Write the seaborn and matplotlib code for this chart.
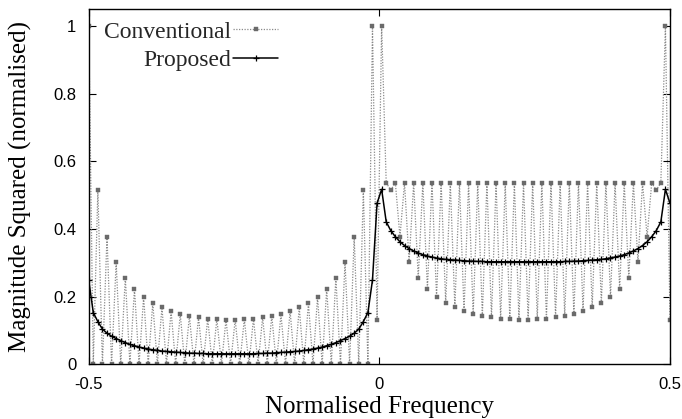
import numpy as np
import pandas as pd
import matplotlib
matplotlib.use("Agg")
import matplotlib.pyplot as plt
import seaborn as sns

# frequency bins (normalised frequency, -0.5 .. 0.5)
N_BINS = 128
freq = np.linspace(-0.5, 0.5, N_BINS)

# Conventional spectrum (bin by bin)
conventional = [
    1.0, 0, 0.515, 0, 0.377, 0, 0.302, 0, 0.256, 0, 0.223, 0, 0.199, 0, 0.181, 0,
    0.168, 0, 0.157, 0, 0.148, 0, 0.143, 0, 0.139, 0, 0.135, 0, 0.134, 0, 0.132, 0,
    0.132, 0, 0.134, 0, 0.135, 0, 0.139, 0, 0.143, 0, 0.148, 0, 0.157, 0, 0.168, 0,
    0.181, 0, 0.199, 0, 0.223, 0, 0.256, 0, 0.302, 0, 0.377, 0, 0.515, 0, 1.0, 0.132,
    1.0, 0.536, 0.515, 0.536, 0.377, 0.536, 0.302, 0.536, 0.256, 0.536, 0.223, 0.536, 0.199, 0.536, 0.181, 0.536,
    0.169, 0.536, 0.157, 0.536, 0.148, 0.536, 0.143, 0.536, 0.140, 0.536, 0.135, 0.536, 0.135, 0.536, 0.132, 0.536,
    0.132, 0.536, 0.135, 0.536, 0.135, 0.536, 0.140, 0.536, 0.143, 0.536, 0.148, 0.536, 0.157, 0.536, 0.169, 0.536,
    0.181, 0.536, 0.199, 0.536, 0.223, 0.536, 0.256, 0.536, 0.302, 0.536, 0.377, 0.536, 0.515, 0.536, 1.0, 0.132,
]

# Proposed spectrum (bin by bin)
proposed = [
    0.249, 0.153, 0.126, 0.104, 0.092, 0.083, 0.076, 0.070, 0.064, 0.059, 0.055, 0.051, 0.048, 0.045, 0.043, 0.041,
    0.039, 0.038, 0.037, 0.036, 0.035, 0.034, 0.033, 0.033, 0.032, 0.032, 0.031, 0.031, 0.031, 0.031, 0.031, 0.031,
    0.031, 0.031, 0.031, 0.031, 0.031, 0.032, 0.032, 0.033, 0.033, 0.034, 0.035, 0.036, 0.037, 0.038, 0.039, 0.041,
    0.043, 0.045, 0.048, 0.051, 0.055, 0.059, 0.064, 0.070, 0.076, 0.083, 0.092, 0.104, 0.126, 0.153, 0.249, 0.476,
    0.517, 0.421, 0.395, 0.377, 0.362, 0.351, 0.342, 0.335, 0.329, 0.324, 0.320, 0.317, 0.314, 0.312, 0.310, 0.309,
    0.308, 0.307, 0.306, 0.305, 0.305, 0.304, 0.304, 0.303, 0.303, 0.303, 0.303, 0.303, 0.303, 0.303, 0.303, 0.303,
    0.303, 0.303, 0.303, 0.303, 0.303, 0.303, 0.303, 0.303, 0.304, 0.304, 0.305, 0.305, 0.306, 0.307, 0.308, 0.309,
    0.310, 0.312, 0.314, 0.317, 0.320, 0.324, 0.329, 0.335, 0.342, 0.351, 0.362, 0.377, 0.395, 0.421, 0.517, 0.476,
]

series_names = ["Conventional", "Proposed"]
x_ticks = [-0.5, 0, 0.5]
x_tick_labels = ["-0.5", "0", "0.5"]
y_ticks = [0, 0.2, 0.4, 0.6, 0.8, 1]
y_tick_labels = ["0", "0.2", "0.4", "0.6", "0.8", "1"]

sns.set_theme(style="ticks")
plt.rcParams["axes.unicode_minus"] = False
plt.rcParams["font.family"] = ["Liberation Sans", "DejaVu Sans"]

fig = plt.figure(figsize=(6.82, 4.19), dpi=100)
W, H = 682, 419
ax = fig.add_axes([88.7 / W, 1 - 364.3 / H, (670 - 88.7) / W, (364.3 - 9) / H])

df = pd.DataFrame({"freq": freq, series_names[0]: conventional, series_names[1]: proposed})

sns.lineplot(data=df, x="freq", y=series_names[0], ax=ax, color="#8a8a8a",
             linestyle=(0, (1, 1.2)), linewidth=0.9, marker="s", markersize=2.7,
             markerfacecolor="#6a6a6a", markeredgecolor="#6a6a6a", markeredgewidth=0.3,
             label=series_names[0])
sns.lineplot(data=df, x="freq", y=series_names[1], ax=ax, color="black",
             linewidth=1.1, marker="+", markersize=4.5, markeredgewidth=0.9,
             markeredgecolor="black", label=series_names[1])

ax.set_xlim(-0.5, 0.5)
ax.set_ylim(0, 1.05)
ax.set_xticks(x_ticks, x_tick_labels)
ax.set_yticks(y_ticks, y_tick_labels)
ax.tick_params(direction="in", length=5, width=0.8, top=True, right=True,
               labelsize=12, pad=9, color="black", labelcolor="black")
for s in ax.spines.values():
    s.set_visible(True)
    s.set_linewidth(1.0)
    s.set_color("black")

serif = ["Liberation Serif", "DejaVu Serif"]
ax.set_xlabel("Normalised Frequency", family=serif, fontsize=18, labelpad=3, color="black")
ax.set_ylabel("Magnitude Squared (normalised)", family=serif, fontsize=18, labelpad=15.5, color="black")

leg = ax.legend(loc="upper right", bbox_to_anchor=(278 / W, 1 - 21 / H), bbox_transform=fig.transFigure,
                markerfirst=False, frameon=False, prop={"family": serif, "size": 17},
                handlelength=1.9, handletextpad=0.1, labelspacing=0.3, borderpad=0, borderaxespad=0)

fig.savefig("out.png", dpi=100)
